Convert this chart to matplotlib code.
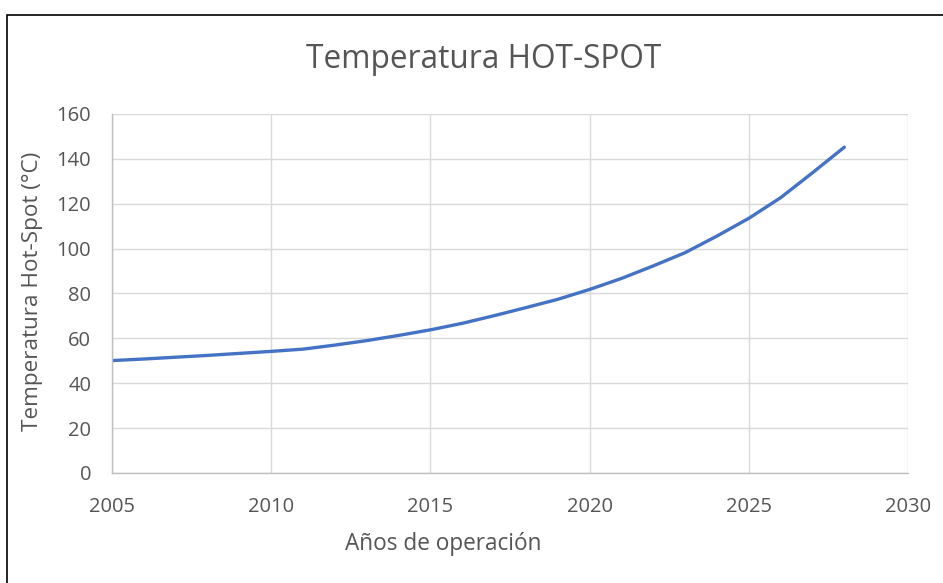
import matplotlib
matplotlib.use('Agg')
import matplotlib.pyplot as plt
from matplotlib.patches import Rectangle

years = list(range(2005, 2029))
temp = [50.1, 50.8, 51.6, 52.4, 53.3, 54.2, 55.2, 57.0, 59.0, 61.3,
        63.8, 66.7, 70.1, 73.7, 77.4, 81.8, 86.7, 92.3, 98.2, 105.6,
        113.5, 122.7, 133.8, 145.2]

x_ticks = [2005, 2010, 2015, 2020, 2025, 2030]
y_ticks = list(range(0, 161, 20))

plt.rcParams['font.family'] = ['Open Sans', 'DejaVu Sans']
text_col = '#555555'

fig = plt.figure(figsize=(9.43, 5.83), dpi=100)
ax = fig.add_axes([0.1188, 0.1887, 0.8441, 0.6158])

ax.plot(years, temp, color='#4472C4', linewidth=2.4, solid_capstyle='round')

ax.set_xlim(2005, 2030)
ax.set_ylim(0, 160)
ax.set_xticks(x_ticks)
ax.set_yticks(y_ticks)
ax.grid(True, color='#D9D9D9', linewidth=1.0)
ax.set_axisbelow(True)
for s in ['top', 'right']:
    ax.spines[s].set_visible(False)
for s in ['left', 'bottom']:
    ax.spines[s].set_color('#BFBFBF')
    ax.spines[s].set_linewidth(1.0)
ax.tick_params(axis='both', length=0, labelsize=14.5, colors=text_col)
ax.tick_params(axis='y', pad=15)
ax.tick_params(axis='x', pad=17)

fig.text(443 / 943, 1 - 544 / 583, 'Años de operación', fontsize=16.3,
         color=text_col, ha='center', va='center')
fig.text(33 / 943, 1 - 291 / 583, 'Temperatura Hot-Spot (°C)', fontsize=16.2,
         color=text_col, ha='center', va='center', rotation=90)
fig.text(484 / 943, 1 - 60 / 583, 'Temperatura HOT-SPOT', fontsize=22.8,
         color=text_col, ha='center', va='center')

# chart border
fig.patches.append(Rectangle((7 / 943, -0.05), 1.0, 1.05 - 15 / 583,
                             transform=fig.transFigure, fill=False,
                             edgecolor='black', linewidth=1.2))

fig.savefig('out.png', dpi=100)
